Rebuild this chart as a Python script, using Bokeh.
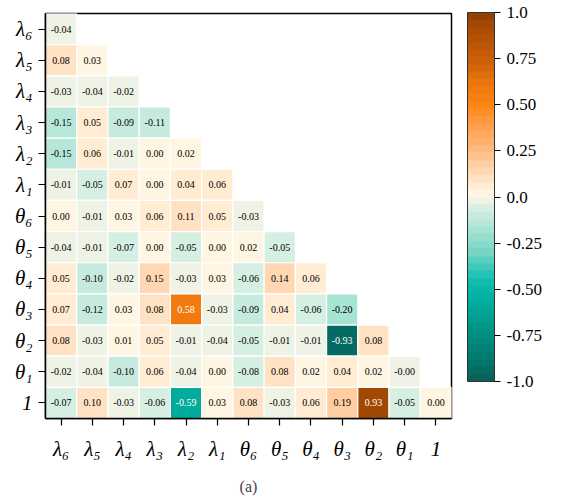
from bokeh.plotting import figure
from bokeh.models import (FactorRange, ColumnDataSource, LinearColorMapper, ColorBar,
                          FixedTicker)
from bokeh.core.properties import value
from bokeh.embed import file_html
from bokeh.resources import INLINE

# ---- data ----
labels = ["λ₆", "λ₅", "λ₄", "λ₃", "λ₂", "λ₁", "θ₆", "θ₅", "θ₄", "θ₃", "θ₂", "θ₁", "1"]

row_l6 = [-0.04]
row_l5 = [0.08, 0.03]
row_l4 = [-0.03, -0.04, -0.02]
row_l3 = [-0.15, 0.05, -0.09, -0.11]
row_l2 = [-0.15, 0.06, -0.01, 0.00, 0.02]
row_l1 = [-0.01, -0.05, 0.07, 0.00, 0.04, 0.06]
row_t6 = [0.00, -0.01, 0.03, 0.06, 0.11, 0.05, -0.03]
row_t5 = [-0.04, -0.01, -0.07, 0.00, -0.05, 0.00, 0.02, -0.05]
row_t4 = [0.05, -0.10, -0.02, 0.15, -0.03, 0.03, -0.06, 0.14, 0.06]
row_t3 = [0.07, -0.12, 0.03, 0.08, 0.58, -0.03, -0.09, 0.04, -0.06, -0.20]
row_t2 = [0.08, -0.03, 0.01, 0.05, -0.01, -0.04, -0.05, -0.01, -0.01, -0.93, 0.08]
row_t1 = [-0.02, -0.04, -0.10, 0.06, -0.04, 0.00, -0.08, 0.08, 0.02, 0.04, 0.02, -0.001]
row_1 = [-0.07, 0.10, -0.03, -0.06, -0.59, 0.03, 0.08, -0.03, 0.06, 0.19, 0.93, -0.05, 0.00]

rows = [row_l6, row_l5, row_l4, row_l3, row_l2, row_l1, row_t6, row_t5,
        row_t4, row_t3, row_t2, row_t1, row_1]

cbar_ticks = [-1.0, -0.75, -0.5, -0.25, 0.0, 0.25, 0.5, 0.75, 1.0]
cbar_tick_labels = ["-1.0", "-0.75", "-0.50", "-0.25", "0.0", "0.25", "0.50", "0.75", "1.0"]

SERIF = "Liberation Serif, Times New Roman, serif"

# ---- palette (discrete diverging teal -> cream -> orange -> brown) ----
anchors = [
    (-1.0, "#0B5C55"), (-0.9, "#00756A"), (-0.75, "#008F80"), (-0.6, "#00A899"),
    (-0.45, "#0EBFAF"), (-0.3, "#74D5C4"), (-0.15, "#B3E6D7"), (-0.05, "#DAF0E4"),
    (-0.02, "#EFF3E5"), (0.02, "#FFF5E3"), (0.1, "#FFE2C4"), (0.25, "#FFBB84"),
    (0.4, "#FF9B45"), (0.5, "#FF8615"), (0.6, "#EE7810"), (0.75, "#C95E08"),
    (0.93, "#A54A02"), (1.0, "#8A3E05"),
]

def hex2rgb(h):
    h = h.lstrip("#")
    return [int(h[i:i + 2], 16) for i in (0, 2, 4)]

def interp(v):
    for (v0, c0), (v1, c1) in zip(anchors[:-1], anchors[1:]):
        if v0 <= v <= v1:
            t = (v - v0) / (v1 - v0)
            a, b = hex2rgb(c0), hex2rgb(c1)
            return "#%02x%02x%02x" % tuple(int(round(a[k] + t * (b[k] - a[k]))) for k in range(3))
    return anchors[-1][1]

NB = 50
palette = [interp(-1 + (i + 0.5) * 2 / NB) for i in range(NB)]

def color_of(v):
    i = int((v + 1) / 2 * NB)
    i = max(0, min(NB - 1, i))
    return palette[i]

def lum(h):
    r, g, b = [c / 255 for c in hex2rgb(h)]
    f = lambda c: c / 12.92 if c <= 0.03928 else ((c + 0.055) / 1.055) ** 2.4
    return 0.2126 * f(r) + 0.7152 * f(g) + 0.0722 * f(b)

xs, ys, vals, txt, tcol = [], [], [], [], []
for i, r in enumerate(rows):
    for j, v in enumerate(r):
        xs.append(labels[j])
        ys.append(labels[i])
        vals.append(v)
        txt.append("%.2f" % v)
        tcol.append("black" if lum(color_of(v)) > 0.408 else "white")

src = ColumnDataSource(dict(x=xs, y=ys, v=vals, t=txt, tc=tcol))

mapper = LinearColorMapper(palette=palette, low=-1, high=1)

p = figure(x_range=FactorRange(*labels), y_range=FactorRange(*labels[::-1]),
           frame_width=406, frame_height=405, output_backend="svg",
           toolbar_location=None, min_border_left=45, min_border_top=13,
           min_border_bottom=70, min_border_right=10)

p.rect(x="x", y="y", width=1, height=1, source=src,
       fill_color={"field": "v", "transform": mapper}, line_color="white", line_width=1.2)
p.text(x="x", y="y", text="t", source=src, text_color="tc", text_align="center",
       text_baseline="middle", text_font=value(SERIF), text_font_size="10px")

p.grid.visible = False
p.outline_line_color = "black"
p.outline_line_width = 1.5
p.background_fill_color = "white"

for ax in (p.xaxis[0], p.yaxis[0]):
    ax.major_label_text_font = SERIF
    ax.major_label_text_font_style = "italic"
    ax.major_label_text_font_size = "21px"
    ax.major_label_text_color = "black"
    ax.major_tick_out = 7
    ax.major_tick_in = 0
    ax.major_tick_line_color = "black"
    ax.major_tick_line_width = 1.2
    ax.axis_line_color = "black"
    ax.axis_line_width = 1.5
    ax.minor_tick_line_color = None
p.xaxis.major_label_standoff = 11
p.yaxis.major_label_standoff = 6
p.xaxis.axis_label = "(a)"
p.xaxis.axis_label_text_font = SERIF
p.xaxis.axis_label_text_font_style = "normal"
p.xaxis.axis_label_text_font_size = "16px"
p.xaxis.axis_label_standoff = 14

cb = ColorBar(color_mapper=mapper, ticker=FixedTicker(ticks=cbar_ticks),
              major_label_overrides={t: s for t, s in zip(cbar_ticks, cbar_tick_labels)},
              width=27, height=369, padding=0, margin=16,
              major_tick_in=0, major_tick_out=6, major_tick_line_color="black",
              major_label_text_font=SERIF, major_label_text_font_size="17px",
              major_label_text_color="black", label_standoff=6,
              bar_line_color="#333333", bar_line_width=1, border_line_color=None,
              location=(16, 37))
p.add_layout(cb, "right")

open("out.html", "w").write(file_html(p, INLINE))
